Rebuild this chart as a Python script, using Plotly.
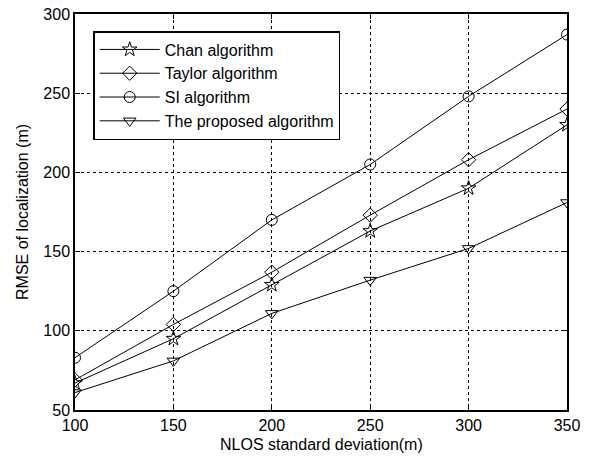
import plotly.graph_objects as go

x_vals = [100, 150, 200, 250, 300, 350]
chan = [67, 95, 129, 163, 190, 230]
taylor = [69, 104, 137, 173, 208, 240]
si = [83, 125, 170, 205, 248, 287]
proposed = [61, 81, 111, 132, 152, 181]

series = [
    ("Chan algorithm", chan, "star-open"),
    ("Taylor algorithm", taylor, "diamond-open"),
    ("SI algorithm", si, "circle-open"),
    ("The proposed algorithm", proposed, "triangle-down-open"),
]

fig = go.Figure()
for name, vals, sym in series:
    fig.add_trace(go.Scatter(
        x=x_vals, y=vals, name=name, mode="lines+markers",
        line=dict(color="black", width=1),
        marker=dict(symbol=sym, size=11, color="black", line=dict(width=1, color="black")),
    ))

font = dict(family="Liberation Sans, Arial, sans-serif", size=16, color="black")
axis_common = dict(
    showgrid=True, gridcolor="black", griddash="dot", gridwidth=1,
    showline=True, linecolor="black", linewidth=1.5, mirror="ticks",
    ticks="inside", ticklen=5, tickcolor="black",
    zeroline=False, tickfont=font, automargin=False,
)
fig.update_xaxes(range=[100, 350], tickvals=[100, 150, 200, 250, 300, 350],
                 **axis_common)
fig.update_yaxes(range=[50, 300], tickvals=[50, 100, 150, 200, 250, 300],
                 **axis_common)
fig.add_annotation(text="NLOS standard deviation(m)", xref="paper", yref="paper",
                   x=0.5, y=0, yshift=-34, showarrow=False, font=font,
                   xanchor="center", yanchor="middle")
fig.add_annotation(text="RMSE of localization (m)", xref="paper", yref="paper",
                   x=0, y=0.5, xshift=-53, showarrow=False, font=font, textangle=-90,
                   xanchor="center", yanchor="middle")
fig.update_layout(
    width=590, height=461,
    margin=dict(l=75, r=23, t=14, b=51),
    plot_bgcolor="white", paper_bgcolor="white",
    font=font,
    legend=dict(x=0.037, y=0.957, xanchor="left", yanchor="top",
                bgcolor="white", bordercolor="black", borderwidth=1.5,
                font=font, itemwidth=60, tracegroupgap=0),
    showlegend=True,
)
fig.write_html("out.html", config={"displayModeBar": False},
               post_script="document.body.style.margin='0';document.body.style.overflow='hidden';")
